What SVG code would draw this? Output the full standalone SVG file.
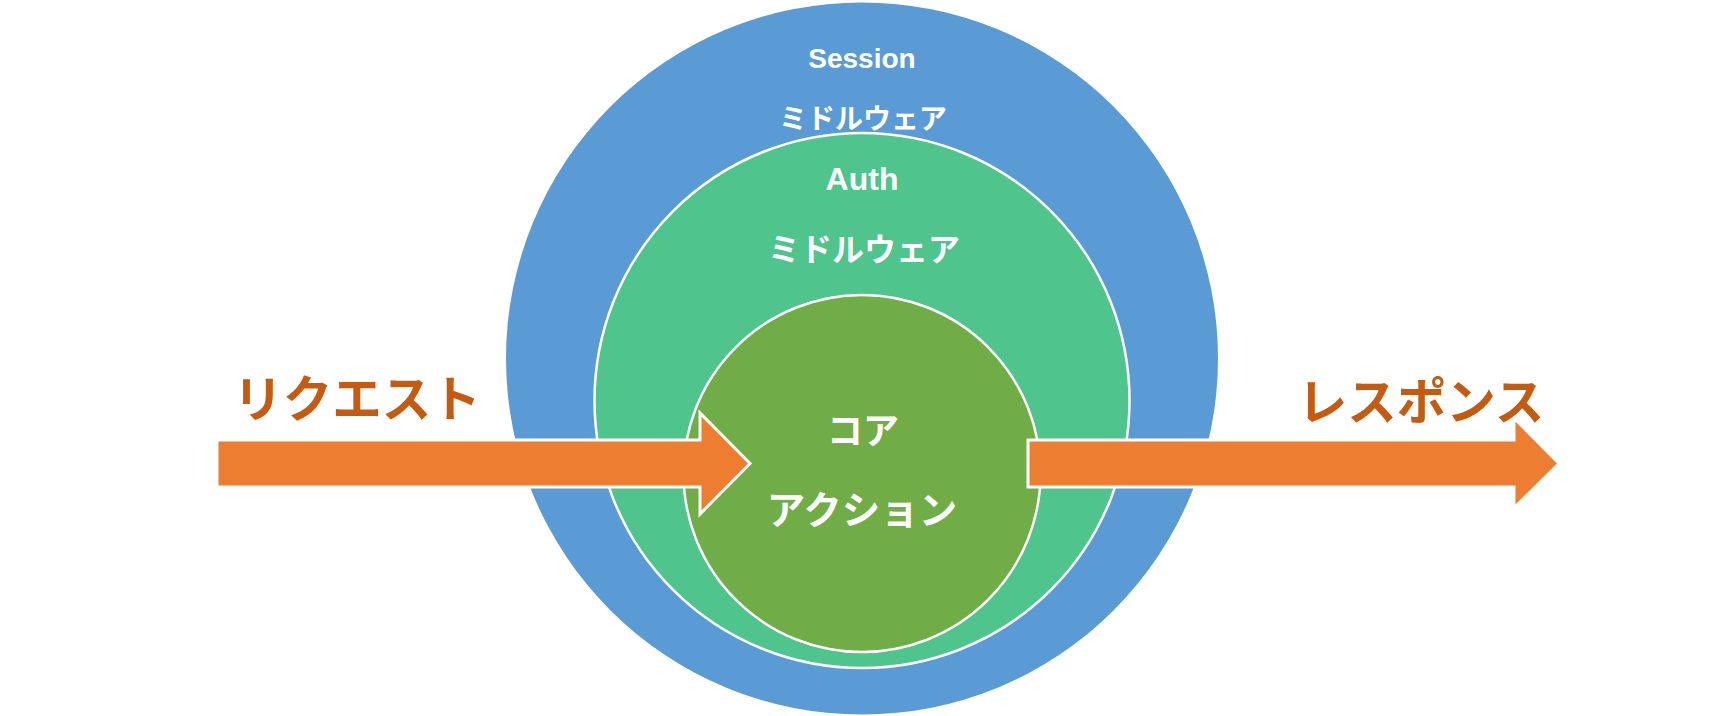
<svg xmlns="http://www.w3.org/2000/svg" width="1725" height="716" viewBox="0 0 1725 716">
<style>
.w{fill:#FFFFFF;font-weight:bold;text-anchor:middle}
.lat{font-family:"Liberation Sans",Arial,sans-serif}
.jp{font-family:"Noto Sans CJK JP","Noto Sans CJK SC",sans-serif}
.lbl{fill:#C55A11;font-weight:bold;text-anchor:middle;font-family:"Noto Sans CJK JP","Noto Sans CJK SC",sans-serif;font-size:49.5px}
.ring{stroke:#FFFFFF;stroke-width:2.5}
.arrow{fill:#ED7D31;stroke:#FFFFFF;stroke-width:3;stroke-linejoin:miter}
</style>
<rect x="0" y="0" width="1725" height="716" fill="#FFFFFF"/>
<g id="session">
<circle cx="862" cy="358.5" r="356" fill="#5B9BD5"/>
<text class="w lat" x="862" y="68" font-size="28">Session</text>
<text class="w jp" x="863" y="129" font-size="28">ミドルウェア</text>
</g>
<g id="auth">
<circle class="ring" cx="862" cy="400.5" r="267.5" fill="#4FC48C"/>
<text class="w lat" x="862" y="190" font-size="32">Auth</text>
<text class="w jp" x="864" y="261" font-size="32">ミドルウェア</text>
</g>
<g id="core">
<circle class="ring" cx="862" cy="473.5" r="178.5" fill="#70AD47"/>
<text class="w jp" x="863" y="444" font-size="36">コア</text>
<text class="w jp" x="862" y="524" font-size="38.5">アクション</text>
</g>
<g id="connectors">
<polygon class="arrow" points="217,440 700,440 700,413 750,463.5 700,514 700,487 217,487"/>
<polygon class="arrow" points="1028,440 1514,440 1514,418 1559,463.5 1514,508 1514,487 1028,487"/>
</g>
<g id="request">
<text class="lbl" x="357" y="417">リクエスト</text>
</g>
<g id="response">
<text class="lbl" x="1421" y="420">レスポンス</text>
</g>
</svg>
